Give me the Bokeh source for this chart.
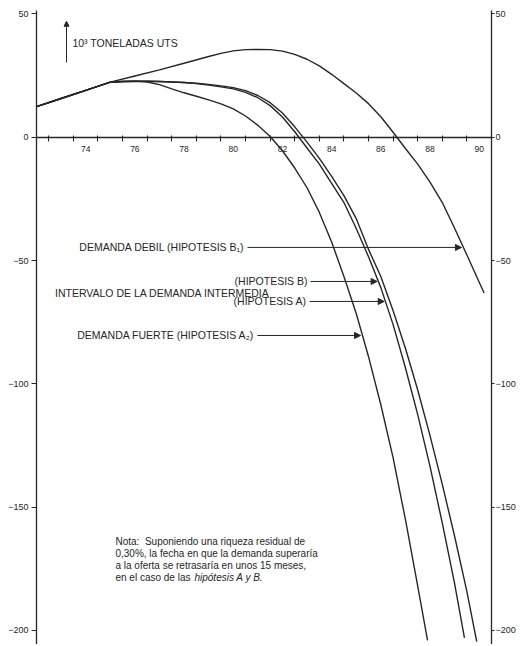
import numpy as np
from bokeh.plotting import figure
from bokeh.models import LinearAxis, FixedTicker, Range1d, Arrow, NormalHead, Label
from bokeh.embed import file_html
from bokeh.resources import INLINE

# ---------------- data (10^3 toneladas UTS, balance oferta - demanda) ----------------
years_b1 = [72, 73, 74, 75, 76, 77, 78, 79, 79.5, 80, 80.5, 81, 81.5, 82, 82.5, 83, 83.5,
            84, 84.5, 85, 85.5, 86, 86.5, 87, 87.5, 88, 88.5, 89, 89.5, 90, 90.2]
debil_b1 = [12.4, 15.7, 19.0, 22.3, 24.8, 27.3, 30.0, 32.7, 34.0, 35.0, 35.5, 35.6, 35.5, 34.9,
            33.6, 31.6, 28.9, 25.5, 21.7, 17.9, 13.6, 8.3, 2.0, -4.6, -10.9, -18.2, -26.5,
            -36.9, -47.8, -58.8, -63.2]

years_b = [72, 73, 74, 75, 75.5, 76, 76.5, 77, 77.5, 78, 78.5, 79, 79.5, 80, 80.5, 81, 81.5,
           82, 82.5, 83, 83.5, 84, 84.5, 85, 85.5, 86, 86.5, 87, 87.5, 88, 88.5, 89, 89.5, 89.9]
hipotesis_b = [12.4, 15.7, 19.0, 22.3, 22.6, 22.7, 22.7, 22.6, 22.4, 22.2, 21.9, 21.4, 20.8,
               20.1, 18.9, 16.9, 14.0, 9.8, 4.2, -2.0, -8.6, -15.9, -23.7, -33.0, -45.5, -56.5,
               -70.4, -85.6, -102.5, -121.0, -140.8, -161.8, -184.3, -204.5]

years_a = [72, 73, 74, 75, 75.5, 76, 76.5, 77, 77.5, 78, 78.5, 79, 79.5, 80, 80.5, 81, 81.5,
           82, 82.5, 83, 83.5, 84, 84.5, 85, 85.5, 86, 86.5, 87, 87.5, 88, 88.5, 89, 89.4]
hipotesis_a = [12.4, 15.7, 19.0, 22.3, 22.6, 22.7, 22.7, 22.6, 22.4, 22.2, 21.7, 21.1, 20.4,
               19.6, 18.2, 16.0, 12.8, 8.2, 2.2, -4.4, -10.9, -18.7, -26.5, -37.0, -48.5, -61.0,
               -76.0, -93.5, -112.5, -133.5, -156.5, -181.0, -203.0]

years_a2 = [72, 73, 74, 75, 75.5, 76, 76.5, 77, 77.5, 78, 78.5, 79, 79.5, 80, 80.5, 81, 81.5,
            82, 82.5, 83, 83.5, 84, 84.5, 85, 85.5, 86, 86.5, 87, 87.5, 87.9]
fuerte_a2 = [12.4, 15.7, 19.0, 22.3, 22.6, 22.7, 22.4, 21.3, 19.6, 18.0, 16.6, 15.1, 13.5, 11.5,
             8.6, 4.8, 0.3, -5.5, -12.5, -20.5, -30.5, -42.5, -56.5, -71.5, -89.0, -108.5,
             -130.0, -155.0, -182.0, -204.0]

y_ticks = [-200, -150, -100, -50, 0, 50]
x_label_years = [74, 76, 78, 80, 82, 84, 86, 88, 90]
x_tick_years = [72.5, 73.5, 74.5, 75.5, 76.5, 77.5, 78.5, 79.5, 80.5, 81.5, 82.5, 83.5,
                84.5, 85.5, 86.5, 87.5, 88.5, 89.5]

unit_label = "10³ TONELADAS UTS"
label_debil = "DEMANDA DEBIL (HIPOTESIS B₁)"
label_b = "(HIPOTESIS B)"
label_intervalo = "INTERVALO DE LA DEMANDA INTERMEDIA"
label_a = "(HIPOTESIS A)"
label_fuerte = "DEMANDA FUERTE (HIPOTESIS A₂)"
note_lines = ["Nota:\u00a0 Suponiendo una riqueza residual de",
              "0,30%, la fecha en que la demanda superaría",
              "a la oferta se retrasaría en unos 15 meses,",
              "en el caso de las "]
note_italic = "hipótesis A y B."

# ---------------- figure ----------------
INK = "#262626"
FONT = "Liberation Sans"

p = figure(width=520, height=644, output_backend="svg", toolbar_location=None,
           x_range=Range1d(72, 90.5), y_range=Range1d(-205.7, 51.37),
           x_axis_location=None, y_axis_location=None,
           min_border_left=36, min_border_right=29, min_border_top=10, min_border_bottom=0)
p.outline_line_color = None
p.background_fill_color = "white"
p.border_fill_color = "white"
p.grid.visible = False


def style_y(ax, tick_out, standoff):
    ax.axis_line_color = INK
    ax.axis_line_width = 1.3
    ax.major_tick_line_color = INK
    ax.major_tick_line_width = 1.1
    ax.major_tick_out = tick_out
    ax.major_tick_in = 0
    ax.minor_tick_line_color = None
    ax.major_label_standoff = standoff
    ax.major_label_text_font = FONT
    ax.major_label_text_font_size = "9px"
    ax.major_label_text_color = INK


left_ax = LinearAxis(ticker=FixedTicker(ticks=y_ticks, minor_ticks=[]))
style_y(left_ax, 5, 3)
p.add_layout(left_ax, "left")

right_ax = LinearAxis(ticker=FixedTicker(ticks=y_ticks, minor_ticks=[]))
style_y(right_ax, 3, 1)
p.add_layout(right_ax, "right")

# x axis drawn at y = 0 : half-year tick marks
x_ticks_ax = LinearAxis(fixed_location=0, ticker=FixedTicker(ticks=x_tick_years, minor_ticks=[]))
x_ticks_ax.axis_line_color = INK
x_ticks_ax.axis_line_width = 1.3
x_ticks_ax.major_tick_line_color = INK
x_ticks_ax.major_tick_line_width = 1.1
x_ticks_ax.major_tick_in = 2
x_ticks_ax.major_tick_out = 4
x_ticks_ax.minor_tick_line_color = None
x_ticks_ax.major_label_text_color = None
p.add_layout(x_ticks_ax, "below")

# year labels
x_lab_ax = LinearAxis(fixed_location=0, ticker=FixedTicker(ticks=x_label_years, minor_ticks=[]))
x_lab_ax.axis_line_color = None
x_lab_ax.major_tick_line_color = None
x_lab_ax.minor_tick_line_color = None
x_lab_ax.major_tick_in = 0
x_lab_ax.major_tick_out = 0
x_lab_ax.major_label_standoff = 9
x_lab_ax.major_label_text_font = FONT
x_lab_ax.major_label_text_font_size = "8.5px"
x_lab_ax.major_label_text_color = INK
p.add_layout(x_lab_ax, "below")

# curves
for xs, ys in [(years_b1, debil_b1), (years_b, hipotesis_b), (years_a, hipotesis_a),
               (years_a2, fuerte_a2)]:
    p.line(xs, ys, line_color=INK, line_width=1.4)


def x_at(xs, ys, level):
    # x where a falling curve reaches a given level (after its maximum)
    xs = np.asarray(xs, float)
    ys = np.asarray(ys, float)
    k = int(np.argmax(ys))
    return float(np.interp(level, ys[k:][::-1], xs[k:][::-1]))


LABEL_SIZE = "10.5px"


def arrow_label(text, x_start, level, tip_x):
    p.add_layout(Arrow(end=NormalHead(size=6, fill_color=INK, line_color=INK, line_width=1),
                       x_start=x_start, y_start=level, x_end=tip_x, y_end=level,
                       line_color=INK, line_width=1))
    p.add_layout(Label(x=x_start, y=level, x_offset=-3, text=text, text_align="right",
                       text_baseline="middle", text_font=FONT, text_font_size=LABEL_SIZE,
                       text_color=INK))


arrow_label(label_debil, 80.58, -44.7, x_at(years_b1, debil_b1, -44.7) - 0.08)
arrow_label(label_b, 83.14, -58.5, x_at(years_a, hipotesis_a, -58.5) - 0.05)
arrow_label(label_a, 83.10, -66.6, x_at(years_a, hipotesis_a, -66.6) - 0.05)
arrow_label(label_fuerte, 80.98, -80.4, x_at(years_a2, fuerte_a2, -80.4) - 0.08)
p.add_layout(Label(x=77.12, y=-63.0, text=label_intervalo, text_align="center",
                   text_baseline="middle", text_font=FONT, text_font_size=LABEL_SIZE,
                   text_color=INK))

# unit indicator
p.add_layout(Arrow(end=NormalHead(size=5, fill_color=INK, line_color=INK, line_width=1),
                   x_start=73.22, y_start=30.3, x_end=73.22, y_end=47.0,
                   line_color=INK, line_width=1))
p.add_layout(Label(x=73.46, y=38.0, text=unit_label, text_align="left", text_baseline="middle",
                   text_font=FONT, text_font_size=LABEL_SIZE, text_color=INK))

# note
note_y = [-164.0, -168.9, -173.7, -178.6]
for txt, yy in zip(note_lines, note_y):
    p.add_layout(Label(x=75.21, y=yy, text=txt, text_align="left", text_baseline="middle",
                       text_font=FONT, text_font_size="10px", text_color=INK))
p.add_layout(Label(x=75.21, y=note_y[3], x_offset=79, text=note_italic, text_align="left",
                   text_baseline="middle", text_font=FONT, text_font_size="10px",
                   text_font_style="italic", text_color=INK))

open("out.html", "w").write(file_html(p, INLINE))
